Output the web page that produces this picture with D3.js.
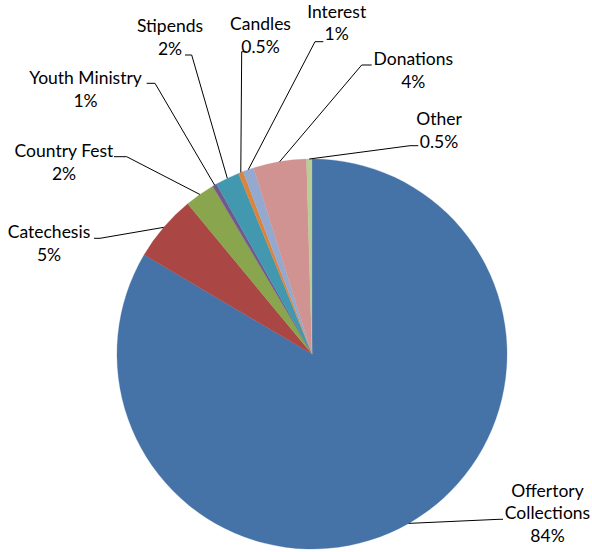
<!DOCTYPE html>
<html>
<head>
<meta charset="utf-8">
<script src="https://cdn.jsdelivr.net/npm/d3@7"></script>
<style>
  html, body { margin: 0; padding: 0; background: #fff; }
  svg { display: block; }
  text { font-family: Lato, "Open Sans", sans-serif; fill: #000; }
</style>
</head>
<body>
<svg id="chart" width="592" height="552"></svg>
<script>
// ---- data ----
const categories = ["Offertory Collections", "Catechesis", "Country Fest", "Youth Ministry",
                    "Stipends", "Candles", "Interest", "Donations", "Other"];
const values = [83.5, 5.5, 2.5, 0.35, 2.0, 0.4, 0.9, 4.4, 0.45];
const percentLabels = ["84%", "5%", "2%", "1%", "2%", "0.5%", "1%", "4%", "0.5%"];
const labelLines = [["Offertory", "Collections"], ["Catechesis"], ["Country Fest"], ["Youth Ministry"],
                    ["Stipends"], ["Candles"], ["Interest"], ["Donations"], ["Other"]];
const colors = ["#4572A7", "#AA4643", "#89A54E", "#71588F", "#4198AF",
                "#DB843D", "#93A9CF", "#D19392", "#B9CD96"];

// ---- layout (label placement) ----
const layout = [
  {cx: 547.5, by: 496.7, ex: 499, ey: 519.3, lx: 503},
  {cx: 49,    by: 238.3, ex: 100, ey: 238.3, lx: 94},
  {cx: 64,    by: 157.3, ex: 126.7, ey: 156.7, lx: 114},
  {cx: 85.5,  by: 84.3,  ex: 155, ey: 83.3, lx: 146.7},
  {cx: 170,   by: 32.3,  ex: 191.7, ey: 55, lx: 185},
  {cx: 260.5, by: 30,    ex: 241.7, ey: 51.7, lx: 246.7},
  {cx: 336.7, by: 17.5,  ex: 315, ey: 41.7, lx: 323.3},
  {cx: 413.3, by: 65,    ex: 361.7, ey: 65, lx: 371.7},
  {cx: 439,   by: 125,   ex: 410, ey: 145.7, lx: 418.3}
];

const W = 592, H = 552;
const cx = 312, cy = 354, R = 195;
const lineH = 22.7;
const fontSize = 17.5;

const svg = d3.select("#chart");
const g = svg.append("g").attr("transform", `translate(${cx},${cy})`);

const pie = d3.pie().sort(null).value(d => d.value);
const data = categories.map((c, i) => ({name: c, value: values[i], i}));
const arcs = pie(data);

const arc = d3.arc().innerRadius(0).outerRadius(R);
const rimArc = d3.arc().innerRadius(R).outerRadius(R);

g.selectAll("path.slice")
  .data(arcs)
  .enter().append("path")
  .attr("class", "slice")
  .attr("d", arc)
  .attr("fill", d => colors[d.data.i])
  .attr("stroke", d => colors[d.data.i])
  .attr("stroke-width", 0.3);

// leader lines
const leaders = svg.append("g");
arcs.forEach(d => {
  const i = d.data.i;
  const L = layout[i];
  const [px, py] = rimArc.centroid(d);
  leaders.append("polyline")
    .attr("points", `${cx + px},${cy + py} ${L.ex},${L.ey} ${L.lx},${L.ey}`)
    .attr("fill", "none")
    .attr("stroke", "#000")
    .attr("stroke-width", 1);
});

// labels
const labels = svg.append("g");
arcs.forEach(d => {
  const i = d.data.i;
  const L = layout[i];
  const lines = labelLines[i].concat([percentLabels[i]]);
  const t = labels.append("text")
    .attr("text-anchor", "middle")
    .attr("font-size", fontSize);
  lines.forEach((ln, k) => {
    t.append("tspan")
      .attr("x", L.cx)
      .attr("y", L.by + k * lineH)
      .text(ln);
  });
});
</script>
</body>
</html>
